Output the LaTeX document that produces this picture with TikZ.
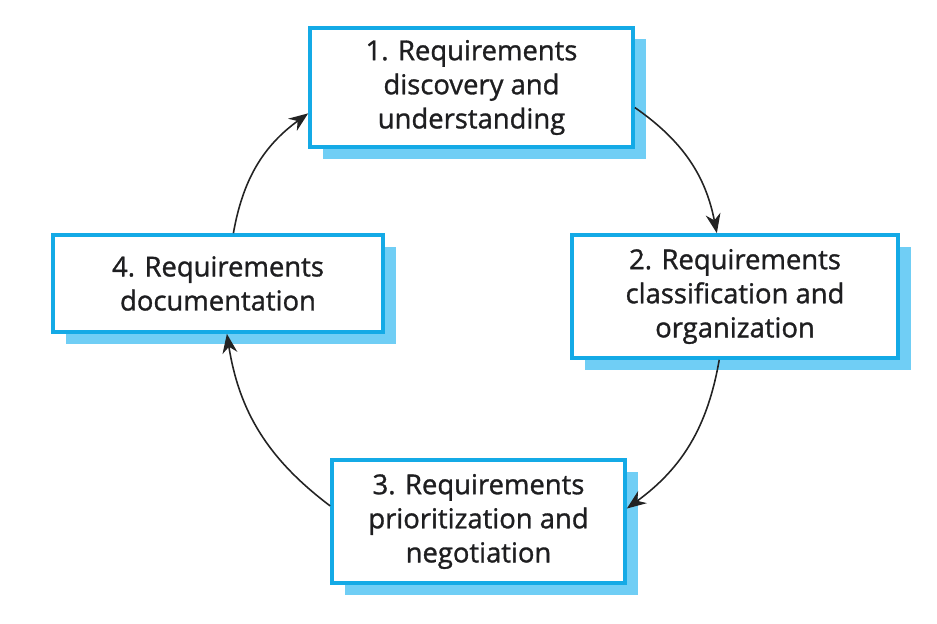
\documentclass[tikz,border=0pt]{standalone}
\usepackage{fontspec}
\setmainfont{Open Sans}[BoldFont=Open Sans,BoldFeatures={FakeBold=1.1}]
\usepackage{xcolor}
\usetikzlibrary{arrows.meta,shadows}
\definecolor{bordcyan}{RGB}{20,170,230}
\definecolor{ombrecyan}{RGB}{112,206,245}
\definecolor{fleche}{RGB}{35,35,35}
\definecolor{texte}{RGB}{30,30,32}
\begin{document}
\begin{tikzpicture}[
	etape/.style={draw=bordcyan,line width=2.1pt,fill=white,align=center,text=texte,
		font=\fontsize{15.6}{19.4}\selectfont\bfseries,inner sep=0pt,
		drop shadow={shadow xshift=0.25cm,shadow yshift=-0.23cm,fill=ombrecyan,opacity=1}},
	fleche/.style={draw=fleche,line width=0.9pt,->,>={Stealth[length=11pt,width=8.5pt]}}]
	\useasboundingbox (0,0) rectangle (18.74,12.46); % le cadre de l'image
	\node[etape,minimum width=6.46cm,minimum height=2.38cm] (decouverte) at (9.43,10.71) {1. Requirements\\discovery and\\understanding};
	\node[etape,minimum width=6.52cm,minimum height=2.46cm] (classement) at (14.70,6.53) {2. Requirements\\classification and\\organization};
	\node[etape,minimum width=5.86cm,minimum height=2.46cm] (priorite) at (9.57,2.03) {3. Requirements\\prioritization and\\negotiation};
	\node[etape,minimum width=6.60cm,minimum height=1.94cm] (documentation) at (4.36,6.79) {4. Requirements\\documentation};
	
	\draw[fleche] (decouverte.-7) to[bend left=22] (classement.106); % 1 vers 2
	\draw[fleche] (classement.256) to[bend left=22] (priorite.5); % 2 vers 3
	\draw[fleche] (priorite.174) to[bend left=22] (documentation.280); % 3 vers 4
	\draw[fleche] (documentation.73) to[bend left=22] (decouverte.189); % 4 vers 1
\end{tikzpicture}
\end{document}
